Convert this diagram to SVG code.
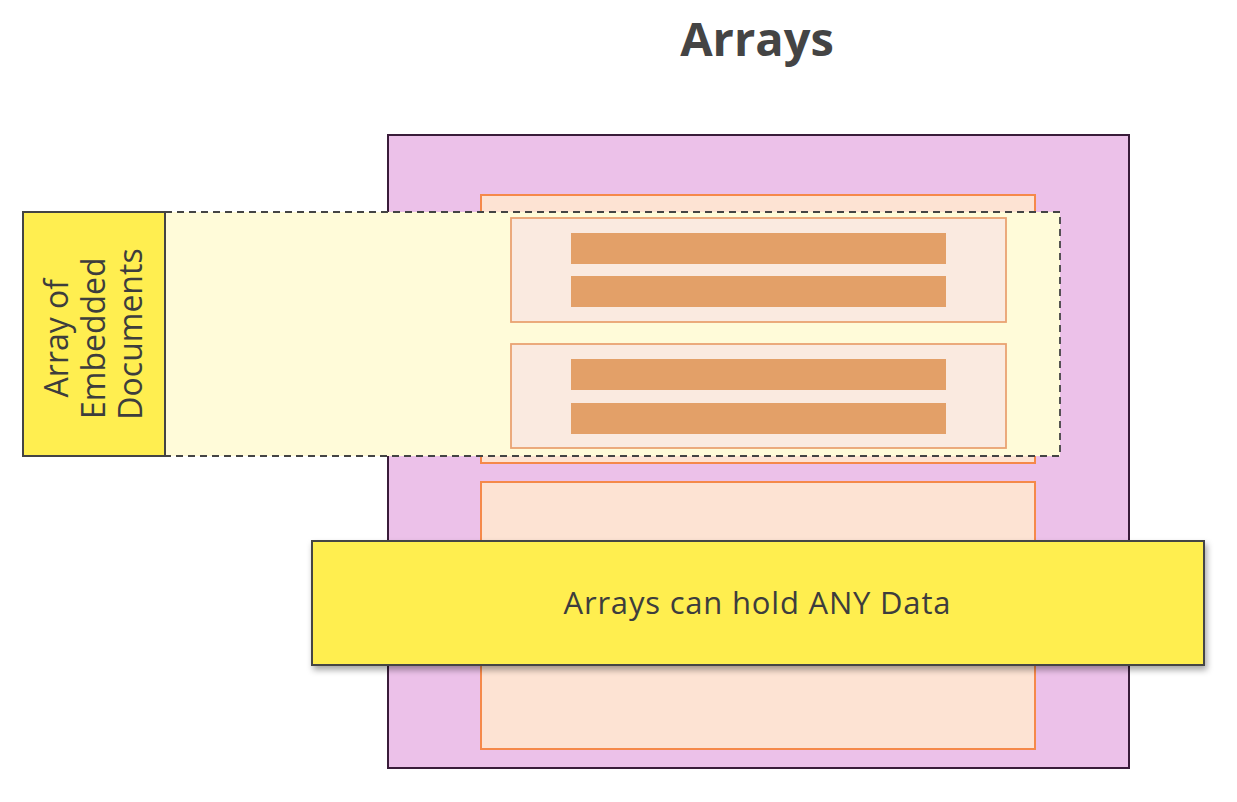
<svg xmlns="http://www.w3.org/2000/svg" width="1237" height="802" viewBox="0 0 1237 802">
<defs>
<style>
.doc{fill:#fde3d3;stroke:#f5894a;stroke-width:2}
.sub{fill:#faeae0;stroke:#e9a272;stroke-width:1.8}
.bar{fill:#e3a068}
.lbl{fill:#ffee50;stroke:#444;stroke-width:2}
.t{font-family:"Open Sans","Liberation Sans",sans-serif;fill:#3d3d3d}
.title{font-family:"Open Sans","Liberation Sans",sans-serif;font-weight:bold;fill:#444}
</style>
<filter id="sh" x="-5%" y="-10%" width="110%" height="130%">
<feDropShadow dx="2" dy="4" stdDeviation="3" flood-color="#000" flood-opacity="0.35"/>
</filter>
</defs>
<rect width="1237" height="802" fill="#fff"/>
<text class="title" x="757" y="56" text-anchor="middle" font-size="47">Arrays</text>
<g id="outer">
<rect x="388" y="135" width="741" height="633" fill="#ecc1e9" stroke="#3a1c3a" stroke-width="2"/>
</g>
<g id="doc1"><rect class="doc" x="481" y="195" width="554" height="268"/></g>
<g id="doc2"><rect class="doc" x="481" y="482" width="554" height="267"/></g>
<g id="embedded-region">
<rect x="165" y="212" width="895" height="244" fill="#fffbd9" stroke="#444" stroke-width="1.8" stroke-dasharray="7,5"/>
</g>
<g id="emb1">
<rect class="sub" x="511" y="218" width="495" height="104"/>
<rect class="bar" x="571" y="233" width="375" height="31"/>
<rect class="bar" x="571" y="276" width="375" height="31"/>
</g>
<g id="emb2">
<rect class="sub" x="511" y="344" width="495" height="104"/>
<rect class="bar" x="571" y="359" width="375" height="31"/>
<rect class="bar" x="571" y="403" width="375" height="31"/>
</g>
<g id="label-embedded">
<rect class="lbl" x="23" y="212" width="142" height="244"/>
<text class="t" font-size="32" text-anchor="middle" transform="translate(94,334) rotate(-90)">
<tspan x="0" y="-26">Array of</tspan>
<tspan x="0" y="11">Embedded</tspan>
<tspan x="0" y="48">Documents</tspan>
</text>
</g>
<g id="label-any">
<rect class="lbl" x="312" y="541" width="892" height="124" filter="url(#sh)"/>
<text class="t" x="757" y="614" font-size="31" text-anchor="middle" textLength="387" lengthAdjust="spacing">Arrays can hold ANY Data</text>
</g>
<g id="connectors"/>
</svg>
